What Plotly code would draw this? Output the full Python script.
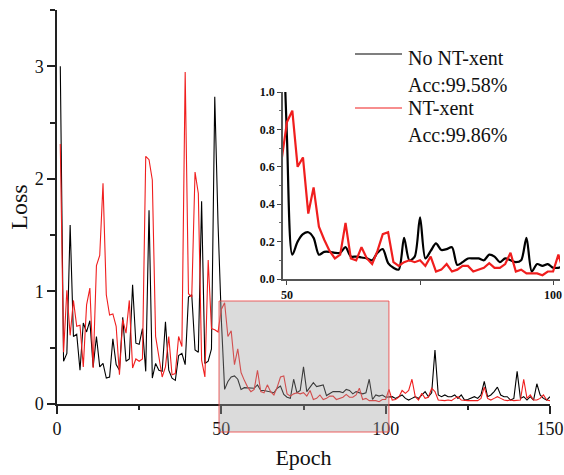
import plotly.graph_objects as go

# ---------------- data ----------------
epochs = list(range(1, 151))

no_ntxent_name = "No NT-xent"
no_ntxent_acc = "Acc:99.58%"
ntxent_name = "NT-xent"
ntxent_acc = "Acc:99.86%"

loss_no_ntxent = [
    3.00, 0.38, 0.45, 1.59, 0.60, 0.62, 0.30, 0.72, 0.64, 0.74,
    0.33, 0.60, 0.33, 0.36, 0.23, 0.24, 0.58, 0.35, 0.30, 0.77,
    0.38, 0.40, 1.06, 0.54, 0.53, 0.67, 0.29, 1.72, 0.23, 0.36,
    0.30, 0.29, 0.73, 0.30, 0.23, 0.21, 0.43, 0.45, 0.35, 0.95,
    0.97, 0.48, 0.46, 1.80, 0.36, 0.38, 0.49, 2.73, 1.60, 0.75,
    0.13, 0.20, 0.24, 0.25, 0.22, 0.13, 0.145, 0.145, 0.14, 0.14,
    0.17, 0.12, 0.12, 0.115, 0.11, 0.10, 0.14, 0.16, 0.085, 0.06,
    0.05, 0.22, 0.10, 0.12, 0.33, 0.11, 0.15, 0.19, 0.155, 0.16,
    0.17, 0.075, 0.09, 0.11, 0.11, 0.11, 0.10, 0.13, 0.12, 0.09,
    0.11, 0.10, 0.09, 0.10, 0.22, 0.04, 0.08, 0.07, 0.08, 0.06,
    0.06, 0.065, 0.05, 0.065, 0.08, 0.05, 0.035, 0.05, 0.065, 0.05,
    0.08, 0.11, 0.065, 0.10, 0.48, 0.08, 0.065, 0.08, 0.065, 0.065,
    0.08, 0.05, 0.08, 0.035, 0.04, 0.05, 0.065, 0.05, 0.08, 0.20,
    0.065, 0.08, 0.11, 0.15, 0.08, 0.065, 0.065, 0.035, 0.05, 0.29,
    0.05, 0.065, 0.035, 0.065, 0.035, 0.18, 0.08, 0.05, 0.035, 0.065,
]

loss_ntxent = [
    2.31, 0.46, 1.01, 0.61, 0.92, 0.69, 0.70, 0.33, 0.88, 1.03,
    0.32, 1.23, 1.32, 1.96, 0.97, 0.79, 0.80, 0.69, 0.26, 0.75,
    0.63, 0.92, 0.32, 0.40, 0.38, 0.40, 2.20, 2.17, 1.99, 0.60,
    0.42, 0.24, 0.33, 0.60, 0.26, 0.27, 0.60, 0.51, 2.95, 0.98,
    0.95, 2.06, 1.87, 0.39, 0.24, 1.28, 0.67, 0.66, 0.64, 0.84,
    0.90, 0.60, 0.65, 0.35, 0.49, 0.28, 0.21, 0.15, 0.11, 0.13,
    0.30, 0.11, 0.10, 0.17, 0.11, 0.08, 0.15, 0.24, 0.25, 0.09,
    0.07, 0.09, 0.10, 0.09, 0.10, 0.07, 0.12, 0.04, 0.05, 0.08,
    0.04, 0.05, 0.07, 0.07, 0.04, 0.05, 0.06, 0.085, 0.06, 0.06,
    0.08, 0.14, 0.04, 0.05, 0.03, 0.03, 0.03, 0.02, 0.04, 0.04,
    0.13, 0.035, 0.04, 0.06, 0.12, 0.095, 0.12, 0.22, 0.065, 0.035,
    0.095, 0.05, 0.06, 0.14, 0.11, 0.035, 0.03, 0.03, 0.035, 0.03,
    0.05, 0.065, 0.035, 0.03, 0.03, 0.03, 0.03, 0.03, 0.05, 0.15,
    0.05, 0.035, 0.05, 0.065, 0.05, 0.035, 0.03, 0.035, 0.03, 0.035,
    0.035, 0.22, 0.05, 0.08, 0.035, 0.035, 0.05, 0.08, 0.035, 0.03,
]

main_xticks = [0, 50, 100, 150]
main_yticks = [0, 1, 2, 3]
inset_xticks = [50, 75, 100]
inset_xticktext = ["50", "", "100"]
inset_yticks = [0.0, 0.2, 0.4, 0.6, 0.8, 1.0]
zoom_window = [49.3, 101.0]

# ---------------- styling ----------------
BLACK = "#000000"
RED = "#f01e1e"
SERIF = "Liberation Serif"

fig = go.Figure()

# main plot
fig.add_trace(go.Scatter(x=epochs, y=loss_no_ntxent, mode="lines",
                         line=dict(color=BLACK, width=1.1), name=no_ntxent_name,
                         showlegend=False))
fig.add_trace(go.Scatter(x=epochs, y=loss_ntxent, mode="lines",
                         line=dict(color=RED, width=1.1), name=ntxent_name,
                         showlegend=False))

# inset
fig.add_trace(go.Scatter(x=epochs, y=loss_no_ntxent, mode="lines",
                         line=dict(color=BLACK, width=2.2, shape="spline", smoothing=0.8),
                         xaxis="x2", yaxis="y2", showlegend=False))
fig.add_trace(go.Scatter(x=epochs, y=loss_ntxent, mode="lines",
                         line=dict(color=RED, width=2.2),
                         xaxis="x2", yaxis="y2", showlegend=False))

W_PLOT = 507.0   # plot-area width in px (l=57, r=0)
H_PLOT = 394.0   # plot-area height in px (t=10, b=71)

def px_x(px):
    return (px - 57) / W_PLOT

def px_y(py):
    return (404 - py) / H_PLOT

fig.update_layout(
    width=564, height=475,
    margin=dict(l=57, r=0, t=10, b=71, autoexpand=False),
    paper_bgcolor="white", plot_bgcolor="rgba(0,0,0,0)",
    font=dict(family=SERIF, color="#111111"),
    xaxis=dict(
        domain=[0, 493 / W_PLOT], range=[0, 150], automargin=False,
        tickvals=main_xticks, ticks="outside", ticklen=8, tickwidth=1.5,
        tickcolor="#222", showline=True, linecolor="#222", linewidth=1.5,
        showgrid=False, zeroline=False,
        tickfont=dict(family=SERIF, size=18, color="#111"),
        minor=dict(dtick=25, tick0=0, ticks="outside", ticklen=4, tickwidth=1.5, tickcolor="#222"),
        title=dict(text="Epoch", font=dict(family=SERIF, size=22, color="#111"), standoff=11),
    ),
    yaxis=dict(
        range=[0, 3.5], automargin=False,
        tickvals=main_yticks, ticks="outside", ticklen=8, tickwidth=1.5,
        tickcolor="#222", showline=True, linecolor="#222", linewidth=1.5,
        showgrid=False, zeroline=False,
        tickfont=dict(family=SERIF, size=18, color="#111"),
        minor=dict(dtick=0.5, tick0=0, ticks="outside", ticklen=5, tickwidth=1.5, tickcolor="#222"),
        title=dict(text="Loss", font=dict(family=SERIF, size=24, color="#111"), standoff=0),
    ),
    xaxis2=dict(
        domain=[px_x(283), px_x(560)], anchor="y2", range=[49.25, 101.3], automargin=False,
        tickvals=inset_xticks, ticktext=inset_xticktext,
        ticks="outside", ticklen=4, tickwidth=1.2, tickcolor="#444",
        showline=True, linecolor="#555", linewidth=1.5,
        showgrid=False, zeroline=False,
        tickfont=dict(family=SERIF, size=12, color="#111", weight="bold"),
    ),
    yaxis2=dict(
        domain=[px_y(279), px_y(92)], anchor="x2", range=[0, 1.0], automargin=False,
        tickvals=inset_yticks, tickformat=".1f",
        ticks="outside", ticklen=4, tickwidth=1.2, tickcolor="#444",
        showline=True, linecolor="#555", linewidth=1.5,
        showgrid=False, zeroline=False,
        tickfont=dict(family=SERIF, size=12, color="#111", weight="bold"),
        minor=dict(dtick=0.1, tick0=0, ticks="outside", ticklen=2.5, tickwidth=1, tickcolor="#666"),
    ),
)

# zoom-window box
fig.add_shape(type="rect", xref="x", yref="paper",
              x0=zoom_window[0], x1=zoom_window[1], y0=px_y(432), y1=px_y(301),
              fillcolor="rgba(160,160,160,0.38)",
              line=dict(color="rgba(235,70,70,0.85)", width=1), layer="above")

# legend (manual)
fig.add_shape(type="line", xref="paper", yref="paper",
              x0=px_x(355), x1=px_x(402), y0=px_y(54), y1=px_y(54),
              line=dict(color=BLACK, width=1.2))
fig.add_shape(type="line", xref="paper", yref="paper",
              x0=px_x(355), x1=px_x(402), y0=px_y(108), y1=px_y(108),
              line=dict(color=RED, width=1.2))

legend_rows = [(no_ntxent_name, 58), (no_ntxent_acc, 85), (ntxent_name, 108), (ntxent_acc, 135)]
for txt, py in legend_rows:
    fig.add_annotation(text=txt, xref="paper", yref="paper", x=px_x(406), y=px_y(py),
                       xanchor="left", yanchor="middle", showarrow=False,
                       font=dict(family=SERIF, size=20, color="#111"))

fig.write_html("out.html")
